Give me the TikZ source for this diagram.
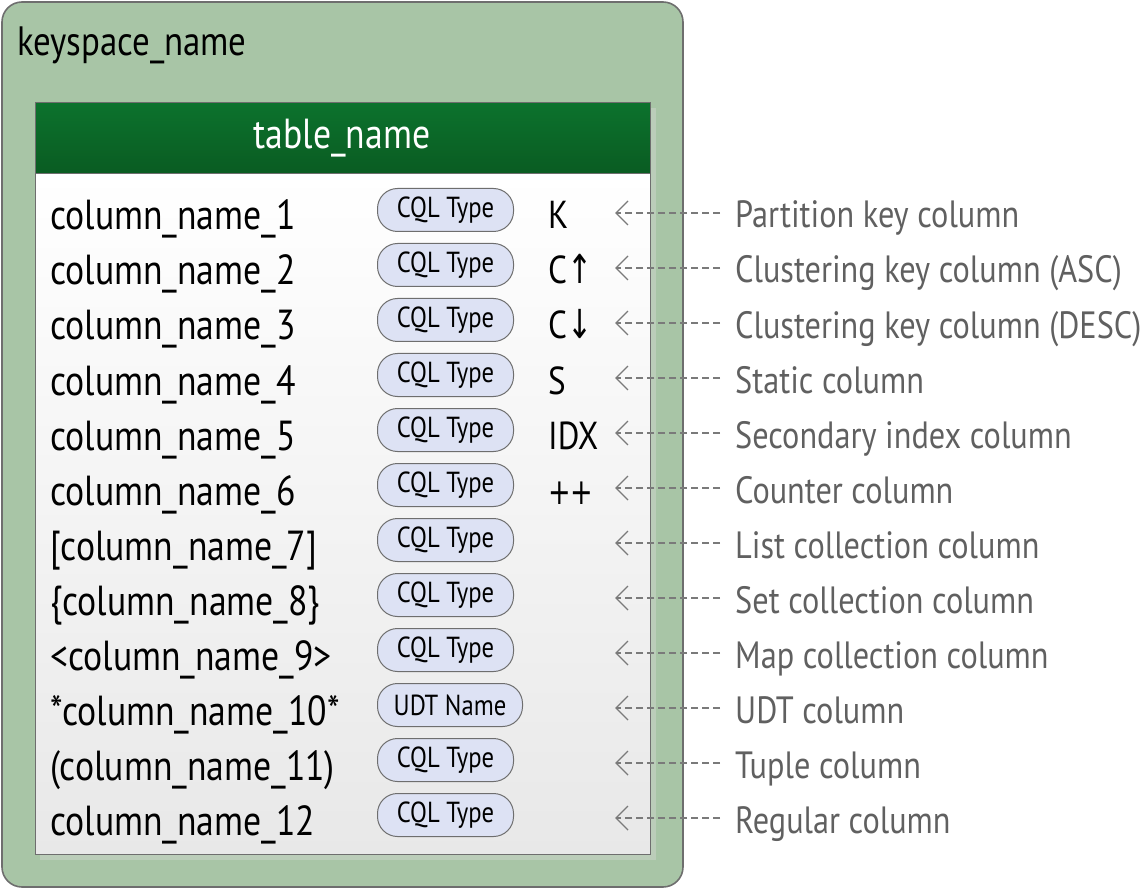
\documentclass[tikz,border=0pt]{standalone}
\usepackage{fontspec}
\setmainfont{PT Sans}[FakeStretch=0.85]
\newfontfamily\symfont{DejaVu Sans}[FakeStretch=0.75]
\usetikzlibrary{arrows.meta}
\definecolor{ksgreen}{HTML}{A8C5A6}
\definecolor{ksborder}{HTML}{6E6E6E}
\definecolor{hdtop}{HTML}{0C722D}
\definecolor{hdbot}{HTML}{0A5C22}
\definecolor{pillfill}{HTML}{DDE2F4}
\definecolor{lblgray}{HTML}{606060}
\definecolor{arrgray}{HTML}{7A7A7A}
\definecolor{shadowc}{HTML}{BBCDB9}
\newcommand{\uparr}{{\symfont\fontsize{40}{40}\selectfont ↑}}
\newcommand{\dnarr}{{\symfont\fontsize{40}{40}\selectfont ↓}}
\newcommand{\plpl}{{\symfont\fontsize{36}{36}\selectfont ++}}
\tikzset{
  maintext/.style={font=\fontsize{42}{46}\selectfont, text=black, inner sep=0pt},
  colname/.style={maintext, anchor=base west},
  marker/.style={font=\fontsize{39}{42}\selectfont, text=black, inner sep=0pt, anchor=base west},
  pill/.style={draw=ksborder, line width=1pt, fill=pillfill, rounded corners=20pt,
     minimum height=43pt, minimum width=136pt, inner sep=0pt,
     font=\fontsize{29}{32}\selectfont, anchor=west},
  lbl/.style={font=\fontsize{38}{42}\selectfont, text=lblgray, inner sep=0pt, anchor=base west},
  pointer/.style={draw=arrgray, line width=1.4pt, dash pattern=on 7pt off 4pt,
     -{Straight Barb[length=12pt,width=24pt,line width=1.4pt]}},
}
\begin{document}
\begin{tikzpicture}[x=1pt,y=-1pt]
\useasboundingbox (0,0) rectangle (1140,890);
% keyspace box
\draw[draw=ksborder, line width=1.6pt, fill=ksgreen, rounded corners=20pt] (2,2) rectangle (683,887);
\node[font=\fontsize{41}{44}\selectfont, inner sep=0pt, anchor=base west] (ks) at (17,56) {keyspace\_name};
% table shadow
\fill[shadowc] (40,108) rectangle (656,860);
% table body
\shade[top color=white, bottom color=black!9] (35,173) rectangle (650,854);
\shade[top color=hdtop, bottom color=hdbot] (35,103) rectangle (650,173);
\draw[ksborder, line width=1pt] (35,103) rectangle (650,854);
\draw[ksborder, line width=0.8pt] (35,173) -- (650,173);
\node[maintext, text=white] (tn) at (342,138) {table\_name};
% rows
\foreach \i/\name/\typ/\mk/\lab in {
 1/column\_name\_1/CQL Type/K/Partition key column,
 2/column\_name\_2/CQL Type/C\uparr/Clustering key column (ASC),
 3/column\_name\_3/CQL Type/C\dnarr/Clustering key column (DESC),
 4/column\_name\_4/CQL Type/S/Static column,
 5/column\_name\_5/CQL Type/IDX/Secondary index column,
 6/column\_name\_6/CQL Type/\plpl/Counter column,
 7/[column\_name\_7]/CQL Type//List collection column,
 8/\{column\_name\_8\}/CQL Type//Set collection column,
 9/<column\_name\_9>/CQL Type//Map collection column,
 10/*column\_name\_10*/UDT Name//UDT column,
 11/(column\_name\_11)/CQL Type//Tuple column,
 12/column\_name\_12/CQL Type//Regular column}{
  \pgfmathsetmacro{\yb}{230+55*(\i-1)}
  \pgfmathsetmacro{\yc}{210+55*(\i-1)}
  \node[colname] (cn\i) at (50,\yb) {\name};
  \ifnum\i=10
    \node[pill, minimum width=145pt] (ty\i) at (377,\yc) {\typ};
  \else
    \node[pill] (ty\i) at (377,\yc) {\typ};
  \fi
  \node[marker] (mk\i) at (548,\yb-1) {\mk};
  \node[lbl] (lb\i) at (735,\yb-2) {\lab};
  \coordinate (tip\i) at (615,\yc+3);
  \coordinate (st\i) at (720,\yc+3);
  \draw[pointer] (st\i) -- (tip\i);
}
\end{tikzpicture}
\end{document}
